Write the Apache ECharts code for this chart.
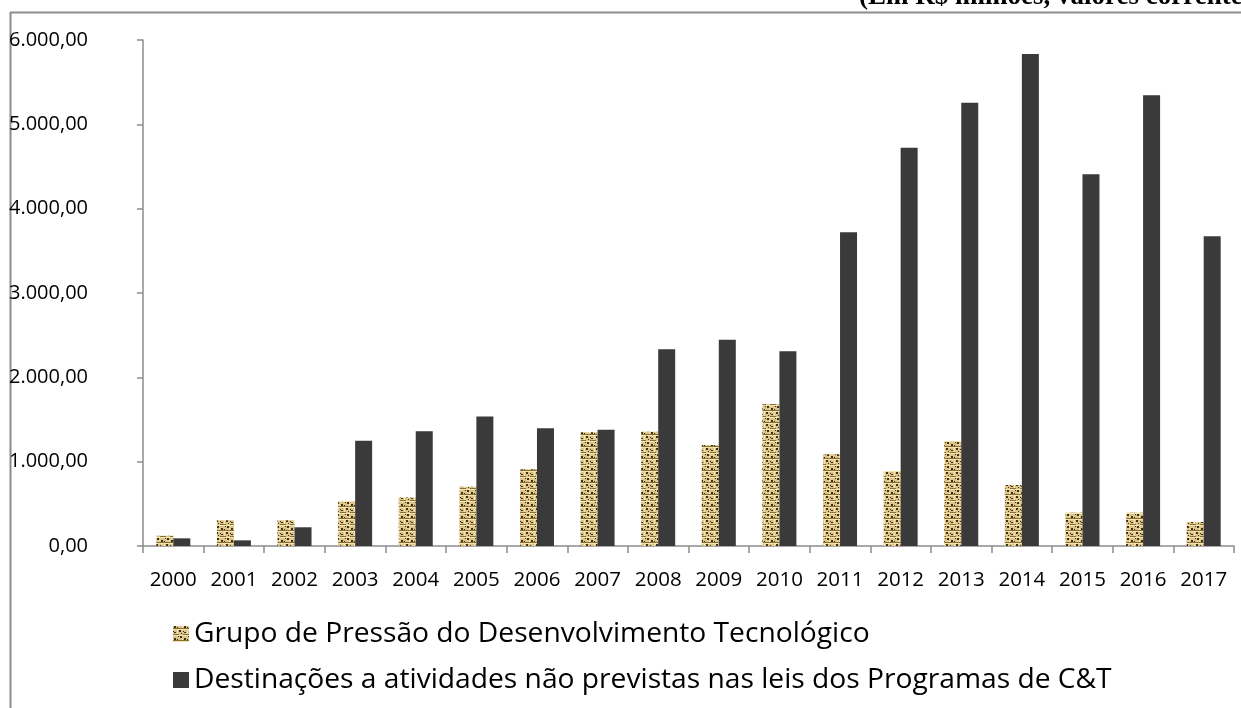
<!DOCTYPE html>
<html>
<head>
<meta charset="utf-8">
<script src="https://cdn.jsdelivr.net/npm/echarts@6/dist/echarts.min.js"></script>
<style>
html,body{margin:0;padding:0;background:#fff;}
#chart{width:1241px;height:708px;}
</style>
</head>
<body>
<div id="chart"></div>
<script>
const years = ['2000','2001','2002','2003','2004','2005','2006','2007','2008','2009','2010','2011','2012','2013','2014','2015','2016','2017'];
const grupoPressao = [122, 305, 305, 534, 575, 704, 909, 1350, 1355, 1198, 1684, 1087, 889, 1245, 723, 395, 395, 285];
const destinacoes = [91, 67, 222, 1249, 1362, 1535, 1395, 1377, 2332, 2447, 2309, 3720, 4723, 5257, 5834, 4407, 5344, 3672];
const seriesNames = ['Grupo de Pressão do Desenvolvimento Tecnológico', 'Destinações a atividades não previstas nas leis dos Programas de C&T'];
const yTicks = [0, 1000, 2000, 3000, 4000, 5000, 6000];
const unitNote = '(Em R$ milhões, valores correntes)';

function makePattern() {
  const c = document.createElement('canvas');
  c.width = 10; c.height = 12;
  const g = c.getContext('2d');
  g.fillStyle = '#dcc58a'; g.fillRect(0, 0, 10, 12);
  g.fillStyle = '#f4e4ae';
  g.fillRect(0, 3, 10, 1); g.fillRect(0, 9, 10, 1); g.fillRect(4, 4, 1, 4); g.fillRect(9, 0, 1, 3);
  g.fillStyle = '#8a6d33';
  g.fillRect(0, 2, 10, 1); g.fillRect(0, 8, 6, 1);
  g.fillStyle = '#3f3014';
  g.fillRect(1, 0, 2, 2); g.fillRect(6, 4, 2, 2); g.fillRect(1, 6, 2, 1); g.fillRect(7, 10, 2, 2);
  g.fillRect(4, 1, 1, 1); g.fillRect(0, 5, 1, 1); g.fillRect(8, 7, 1, 1); g.fillRect(5, 10, 1, 1);
  return c;
}
const pattern = { image: makePattern(), repeat: 'repeat' };

function fmtBR(v) {
  const s = Math.round(v).toString().replace(/\B(?=(\d{3})+(?!\d))/g, '.');
  return s + ',00';
}

const chart = echarts.init(document.getElementById('chart'));
chart.setOption({
  animation: false,
  backgroundColor: '#fff',
  textStyle: { fontFamily: 'Open Sans' },
  grid: { left: 143, right: 7, top: 40, bottom: 162, containLabel: false },
  legend: {
    orient: 'vertical',
    left: 168,
    top: 615,
    itemGap: 18,
    itemWidth: 16,
    itemHeight: 16,
    icon: 'rect',
    textStyle: { fontSize: 28.2, color: '#000', fontFamily: 'Open Sans', padding: [0, 0, 0, 0] },
    data: seriesNames
  },
  xAxis: {
    type: 'category',
    data: years,
    axisLine: { lineStyle: { color: '#8c8c8c', width: 1.5 } },
    axisTick: { show: true, length: 7, lineStyle: { color: '#8c8c8c', width: 1.5 } },
    axisLabel: { color: '#000', fontSize: 20.5, margin: 24, interval: 0, fontFamily: 'Open Sans' }
  },
  yAxis: {
    type: 'value',
    min: 0, max: 6000, interval: 1000,
    splitLine: { show: false },
    axisLine: { show: true, lineStyle: { color: '#8c8c8c', width: 1.5 } },
    axisTick: { show: true, length: 6, lineStyle: { color: '#8c8c8c', width: 1.5 } },
    axisLabel: {
      color: '#000', fontSize: 20, margin: 55, align: 'right', fontFamily: 'Open Sans',
      formatter: v => yTicks.includes(v) ? fmtBR(v) : ''
    }
  },
  series: [
    { name: seriesNames[0], type: 'bar', data: grupoPressao, barWidth: 17, barGap: '0%',
      itemStyle: { color: pattern } },
    { name: seriesNames[1], type: 'bar', data: destinacoes, barWidth: 17, barGap: '0%',
      itemStyle: { color: '#3a3a3a' } }
  ],
  graphic: [
    { type: 'line', shape: { x1: 10, y1: 12.5, x2: 1241, y2: 12.5 }, style: { stroke: '#8c8c8c', lineWidth: 2 } },
    { type: 'line', shape: { x1: 10.5, y1: 12, x2: 10.5, y2: 708 }, style: { stroke: '#8c8c8c', lineWidth: 2 } },
    { type: 'text', x: 859, y: -16, style: { text: unitNote, font: 'bold 27px "Liberation Serif"', fill: '#000', verticalAlign: 'top', align: 'left' } }
  ]
});
</script>
</body>
</html>
